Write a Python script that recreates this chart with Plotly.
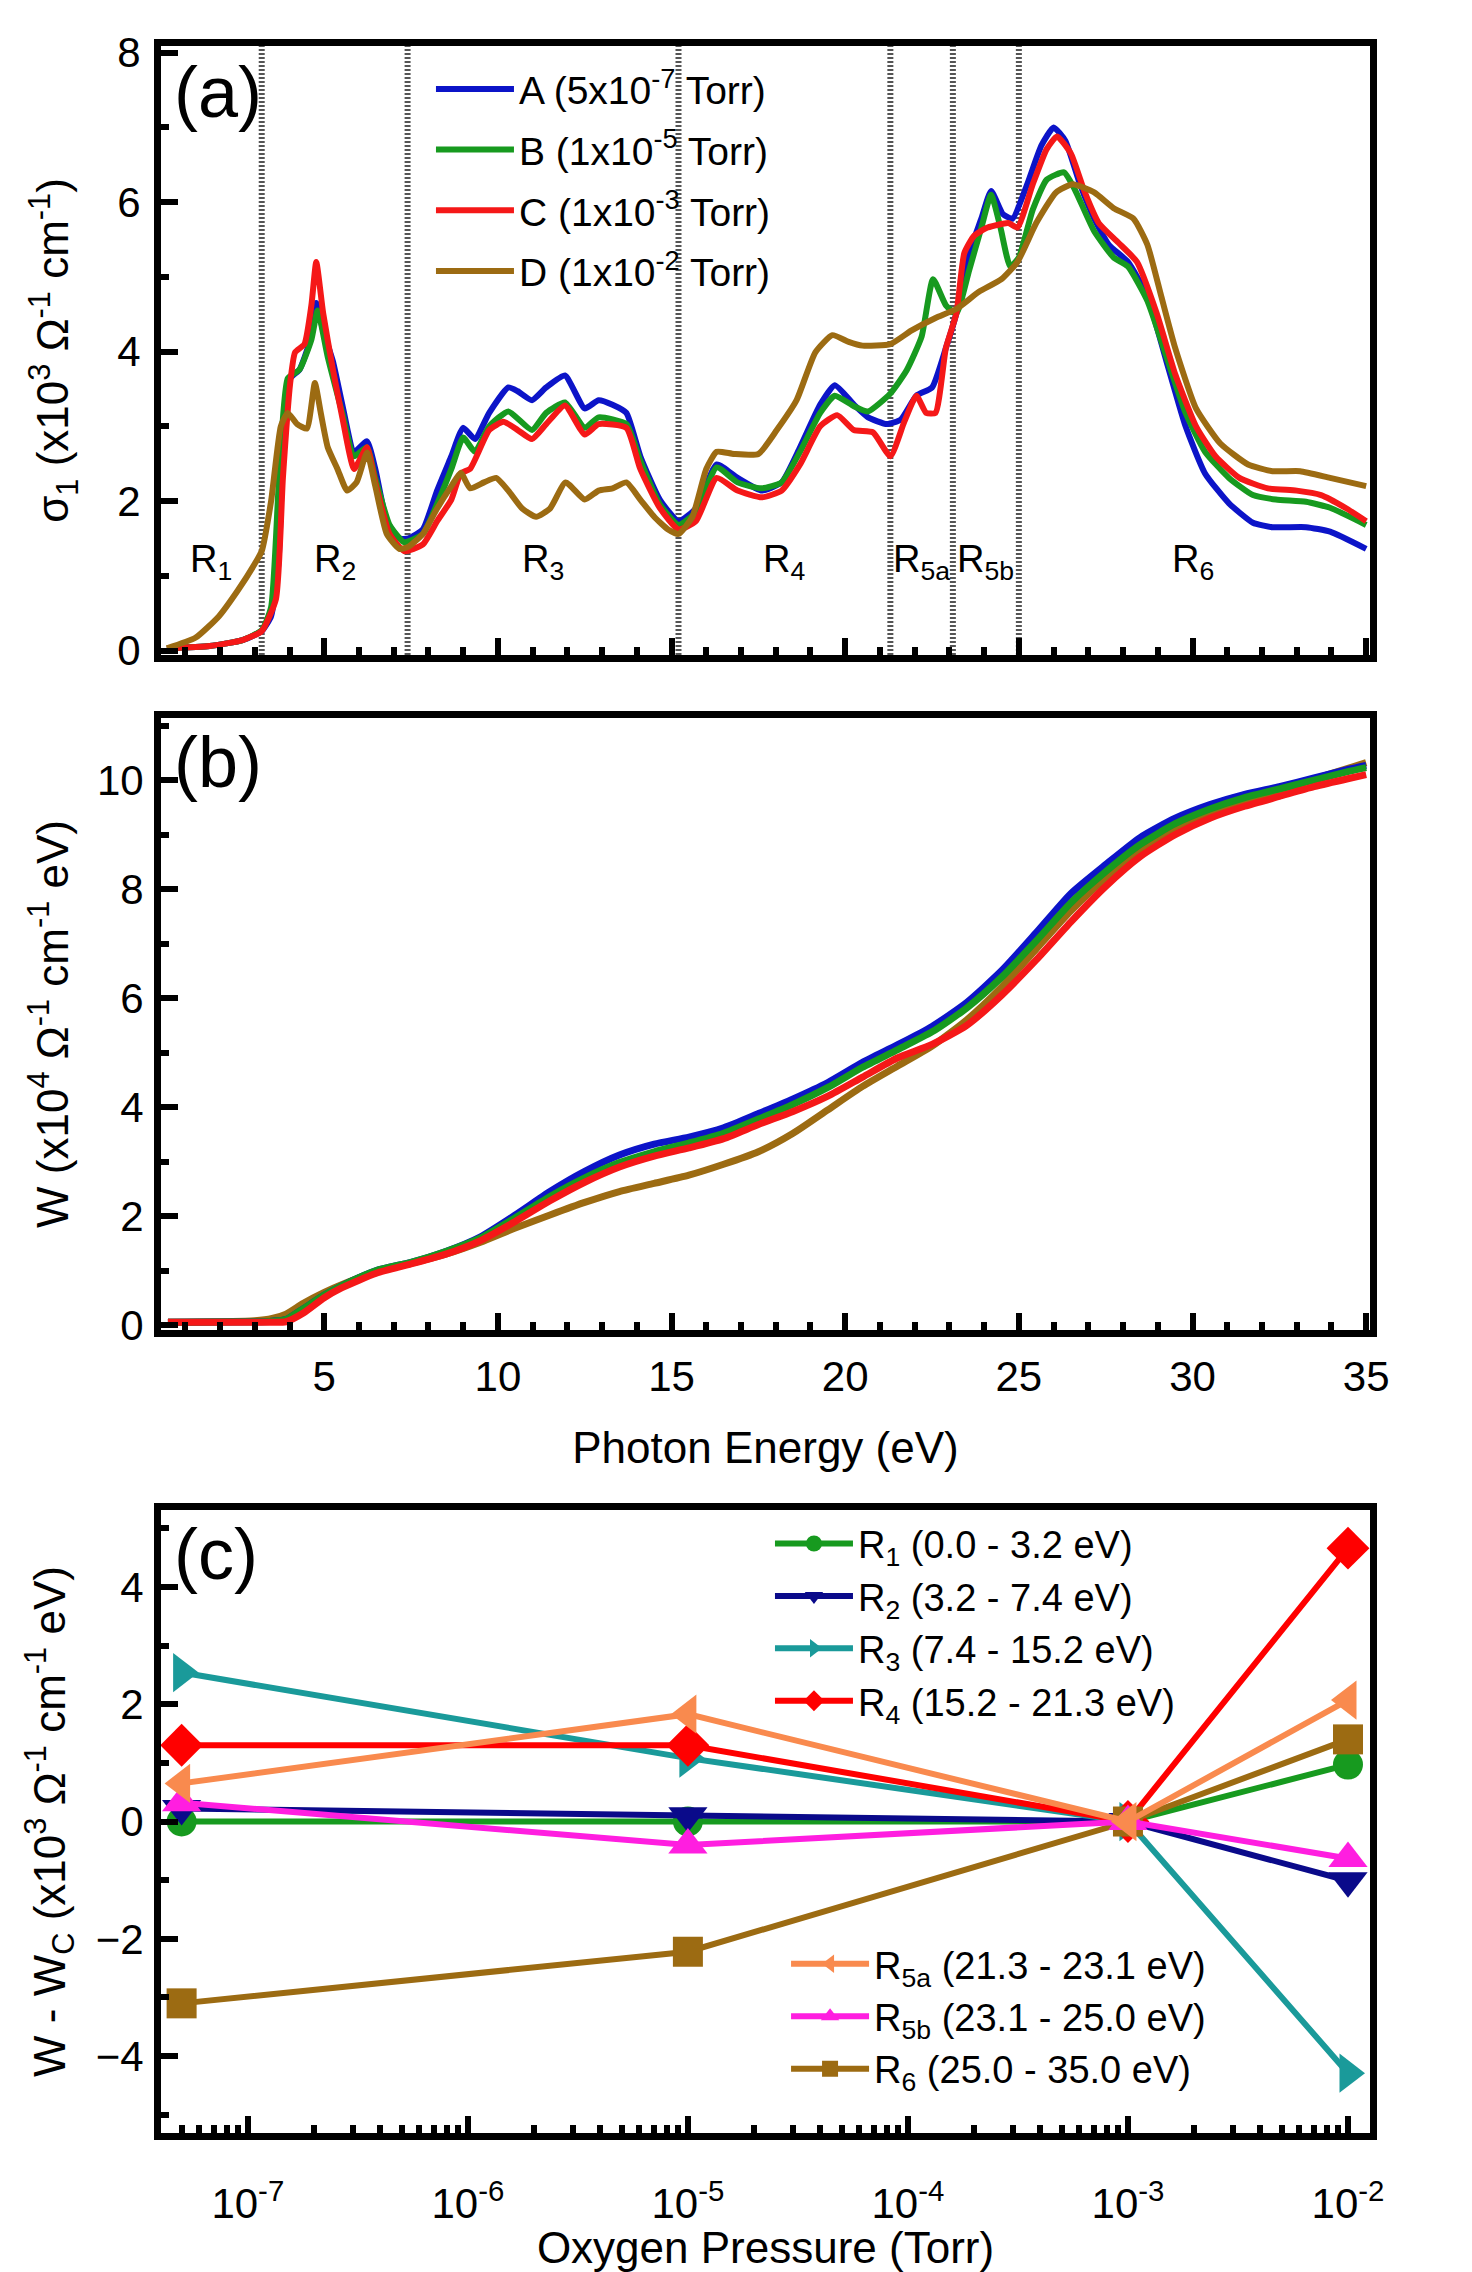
import numpy as np
import plotly.graph_objects as go

FONT = "Liberation Sans, Arial, sans-serif"

# ---------------- Panel (a): sigma_1 (x10^3 Ohm^-1 cm^-1) ----------------
E_A = [0.47, 1.7, 2.65, 3.2, 3.47, 3.68, 3.81, 4.02, 4.29, 4.56, 4.77, 4.97, 5.25, 5.52, 5.86, 6.23, 6.47, 6.8,
       7.16, 7.43, 7.84, 8.25, 8.66, 9.0, 9.34, 9.75, 10.3, 10.57, 10.98, 11.39, 11.93, 12.5, 12.9, 13.3, 13.7,
       14.1, 14.66, 15.2, 15.7, 16.3, 16.9, 17.6, 18.17, 18.7, 19.28, 19.7, 20.25, 20.66, 21.2, 21.6, 22.05,
       22.5, 22.9, 23.2, 23.57, 23.92, 24.2, 24.54, 24.82, 25.24, 25.65, 26.0, 26.34, 26.76, 27.17, 27.59,
       28.14, 28.7, 29.25, 29.8, 30.36, 31.05, 31.74, 32.3, 33.27, 33.96, 35.0]
S_A = [0.03, 0.06, 0.14, 0.26, 0.46, 1.16, 2.6, 3.64, 3.76, 4.1, 4.65, 4.28, 3.87, 3.29, 2.66, 2.8, 2.43, 1.73,
       1.5, 1.5, 1.62, 2.14, 2.6, 2.98, 2.83, 3.18, 3.52, 3.47, 3.35, 3.52, 3.68, 3.24, 3.35, 3.29, 3.18,
       2.6, 2.02, 1.73, 1.9, 2.49, 2.31, 2.14, 2.25, 2.72, 3.29, 3.55, 3.29, 3.12, 3.03, 3.09, 3.41,
       3.52, 4.05, 4.51, 5.32, 5.78, 6.15, 5.84, 5.78, 6.24, 6.76, 7.0, 6.82, 6.24, 5.78, 5.43,
       5.2, 4.74, 3.87, 3.0, 2.37, 1.97, 1.71, 1.65, 1.65, 1.59, 1.36]

E_B = [0.47, 1.7, 2.65, 3.2, 3.47, 3.7, 3.95, 4.29, 4.63, 4.81, 5.1, 5.52, 5.86, 6.23, 6.47, 6.88, 7.3, 7.84,
       8.25, 8.66, 9.0, 9.34, 9.75, 10.3, 10.98, 11.39, 11.93, 12.5, 12.9, 13.7, 14.1, 14.66, 15.2, 15.7,
       16.3, 16.9, 17.6, 18.17, 18.7, 19.28, 19.7, 20.25, 20.66, 21.3, 21.77, 22.2, 22.53, 22.9, 23.2, 23.57,
       23.92, 24.2, 24.47, 24.75, 25.0, 25.4, 25.8, 26.3, 26.6, 27.17, 27.73, 28.14, 28.7, 29.25, 29.8,
       30.36, 31.05, 31.74, 32.4, 33.27, 33.96, 35.0]
S_B = [0.03, 0.06, 0.14, 0.27, 0.58, 2.31, 3.64, 3.76, 4.16, 4.55, 3.93, 3.18, 2.6, 2.72, 2.31, 1.68, 1.45, 1.56,
       1.96, 2.43, 2.85, 2.66, 3.0, 3.2, 2.95, 3.18, 3.32, 2.98, 3.12, 3.03, 2.54, 1.96, 1.68, 1.85,
       2.45, 2.25, 2.17, 2.25, 2.66, 3.18, 3.41, 3.27, 3.2, 3.44, 3.75, 4.2, 4.97, 4.62, 4.51, 5.09,
       5.66, 6.1, 5.66, 5.14, 5.26, 5.9, 6.3, 6.4, 6.18, 5.61, 5.26, 5.14, 4.68, 3.93, 3.18,
       2.66, 2.31, 2.08, 2.02, 1.99, 1.91, 1.68]

E_C = [0.47, 1.7, 2.65, 3.2, 3.61, 3.81, 4.02, 4.16, 4.43, 4.63, 4.77, 4.97, 5.25, 5.52, 5.86, 6.23, 6.47, 6.88,
       7.3, 7.84, 8.25, 8.66, 8.93, 9.2, 9.75, 10.16, 10.57, 10.98, 11.39, 11.93, 12.5, 12.9, 13.7, 14.1,
       14.66, 15.2, 15.7, 16.3, 16.9, 17.6, 18.17, 18.7, 19.28, 19.77, 20.25, 20.8, 21.3, 21.7, 22.05, 22.33,
       22.6, 22.9, 23.2, 23.43, 23.71, 24.1, 24.7, 24.96, 25.4, 25.8, 26.1, 26.5, 26.9, 27.3, 27.86, 28.4,
       28.97, 29.5, 30.1, 30.66, 31.35, 32.17, 33.0, 33.7, 34.4, 35.0]
S_C = [0.03, 0.06, 0.14, 0.26, 0.69, 2.31, 3.58, 3.99, 4.1, 4.62, 5.2, 4.51, 3.76, 3.12, 2.43, 2.72, 2.25, 1.56,
       1.33, 1.42, 1.73, 2.02, 2.37, 2.43, 2.95, 3.06, 2.95, 2.83, 3.03, 3.28, 2.89, 3.03, 2.98, 2.43,
       1.91, 1.62, 1.73, 2.31, 2.14, 2.05, 2.14, 2.49, 3.0, 3.15, 2.95, 2.92, 2.6, 3.06, 3.41, 3.18,
       3.18, 4.05, 4.51, 5.32, 5.55, 5.66, 5.72, 5.66, 6.24, 6.71, 6.88, 6.65, 6.13, 5.72, 5.46, 5.2,
       4.51, 3.7, 3.0, 2.6, 2.31, 2.17, 2.14, 2.08, 1.91, 1.73]

E_D = [0.47, 1.29, 1.97, 2.52, 3.0, 3.2, 3.47, 3.75, 3.95, 4.22, 4.5, 4.73, 4.9, 5.1, 5.38, 5.66, 5.93, 6.23,
       6.47, 6.8, 7.16, 7.43, 7.84, 8.25, 8.66, 8.93, 9.2, 9.6, 9.95, 10.3, 10.7, 11.1, 11.5, 11.95, 12.5,
       12.9, 13.3, 13.7, 14.1, 14.5, 14.9, 15.2, 15.6, 16.0, 16.3, 16.8, 17.5, 18.03, 18.6, 19.14, 19.63,
       20.1, 20.5, 21.3, 21.9, 22.6, 23.2, 23.85, 24.5, 24.96, 25.5, 26.07, 26.55, 27.17, 27.73, 28.3, 28.7,
       29.1, 29.5, 30.1, 30.8, 31.6, 32.3, 33.1, 33.96, 35.0]
S_D = [0.03, 0.17, 0.46, 0.81, 1.16, 1.33, 2.0, 3.0, 3.18, 3.03, 2.97, 3.58, 3.18, 2.72, 2.43, 2.14, 2.25, 2.65,
       2.2, 1.56, 1.36, 1.39, 1.56, 1.9, 2.2, 2.38, 2.17, 2.25, 2.31, 2.14, 1.9, 1.79, 1.9, 2.25, 2.02,
       2.14, 2.17, 2.25, 2.02, 1.79, 1.62, 1.56, 1.79, 2.43, 2.66, 2.63, 2.63, 2.95, 3.35, 3.99, 4.22,
       4.13, 4.08, 4.1, 4.28, 4.45, 4.57, 4.8, 4.97, 5.2, 5.72, 6.13, 6.24, 6.13, 5.92, 5.78, 5.43,
       4.74, 4.05, 3.24, 2.77, 2.49, 2.4, 2.4, 2.31, 2.2]

series_names_a = ["A (5x10<sup>-7</sup> Torr)", "B (1x10<sup>-5</sup> Torr)",
                  "C (1x10<sup>-3</sup> Torr)", "D (1x10<sup>-2</sup> Torr)"]
series_colors = ["#0c14c8", "#179a1f", "#f51818", "#9c6b12"]

region_bounds = [3.2, 7.4, 15.2, 21.3, 23.1, 25.0]
region_labels = ["R<sub>1</sub>", "R<sub>2</sub>", "R<sub>3</sub>", "R<sub>4</sub>",
                 "R<sub>5a</sub>", "R<sub>5b</sub>", "R<sub>6</sub>"]
region_label_x = [1.75, 5.3, 11.3, 18.25, 22.2, 24.05, 30.0]
region_label_y = 1.18

# ---------------- Panel (b): W (x10^4 Ohm^-1 cm^-1 eV) ----------------
E_W = [0.5, 3.0, 3.5, 3.9, 4.4, 5.0, 5.5, 6.5, 7.5, 8.5, 9.5, 10.5, 11.5, 12.5, 13.5, 14.5, 15.5, 16.5,
       17.5, 18.5, 19.5, 20.5, 21.5, 22.5, 23.5, 24.5, 25.5, 26.5, 27.5, 28.5, 29.5, 30.5, 31.5, 32.5,
       33.5, 34.5, 35.0]
W_A = [0.05, 0.06, 0.07, 0.1, 0.3, 0.55, 0.72, 1.0, 1.15, 1.35, 1.62, 2.02, 2.45, 2.82, 3.12, 3.32, 3.45, 3.62,
       3.88, 4.15, 4.45, 4.82, 5.14, 5.48, 5.92, 6.5, 7.2, 7.92, 8.45, 8.95, 9.3, 9.55, 9.74, 9.88,
       10.04, 10.2, 10.27]
W_B = [0.05, 0.06, 0.07, 0.1, 0.3, 0.55, 0.72, 1.0, 1.15, 1.35, 1.6, 1.97, 2.36, 2.7, 2.98, 3.18, 3.34, 3.52,
       3.78, 4.05, 4.36, 4.73, 5.05, 5.38, 5.82, 6.38, 7.05, 7.75, 8.32, 8.82, 9.2, 9.47, 9.68, 9.84,
       10.0, 10.16, 10.23]
W_C = [0.05, 0.05, 0.05, 0.06, 0.22, 0.5, 0.68, 0.95, 1.12, 1.3, 1.55, 1.9, 2.28, 2.62, 2.9, 3.1, 3.25, 3.42,
       3.68, 3.92, 4.2, 4.55, 4.9, 5.15, 5.5, 6.05, 6.7, 7.4, 8.05, 8.6, 9.0, 9.3, 9.52, 9.7,
       9.88, 10.03, 10.1]
W_D = [0.05, 0.08, 0.12, 0.2, 0.4, 0.6, 0.74, 0.98, 1.13, 1.3, 1.52, 1.78, 2.02, 2.25, 2.45, 2.6, 2.75, 2.95,
       3.18, 3.52, 3.95, 4.38, 4.75, 5.12, 5.6, 6.2, 6.9, 7.6, 8.2, 8.7, 9.12, 9.4, 9.62, 9.8,
       10.02, 10.22, 10.32]

# ---------------- Panel (c): W - W_C (x10^3 Ohm^-1 cm^-1 eV) ----------------
pressure = [5e-8, 1e-5, 1e-3, 1e-2]
dW_R1 = [0.0, 0.0, 0.0, 0.97]
dW_R2 = [0.22, 0.1, 0.0, -1.01]
dW_R3 = [2.54, 1.08, 0.0, -4.29]
dW_R4 = [1.3, 1.3, 0.0, 4.66]
dW_R5a = [0.65, 1.83, 0.0, 2.07]
dW_R5b = [0.32, -0.4, 0.0, -0.63]
dW_R6 = [-3.1, -2.22, 0.0, 1.4]

c_names = ["R<sub>1</sub> (0.0 - 3.2 eV)", "R<sub>2</sub> (3.2 - 7.4 eV)", "R<sub>3</sub> (7.4 - 15.2 eV)",
           "R<sub>4</sub> (15.2 - 21.3 eV)", "R<sub>5a</sub> (21.3 - 23.1 eV)",
           "R<sub>5b</sub> (23.1 - 25.0 eV)", "R<sub>6</sub> (25.0 - 35.0 eV)"]
c_colors = ["#179a1f", "#0a0a8a", "#1a9a9a", "#ff0000", "#f98a4e", "#ff1ee0", "#9c6b12"]
c_symbols = ["circle", "triangle-down", "triangle-right", "diamond", "triangle-left", "triangle-up", "square"]
c_sizes = [30, 34, 34, 33, 34, 34, 30]

pressure_ticks = [1e-7, 1e-6, 1e-5, 1e-4, 1e-3, 1e-2]
pressure_ticktext = ["10<sup>-7</sup>", "10<sup>-6</sup>", "10<sup>-5</sup>", "10<sup>-4</sup>",
                     "10<sup>-3</sup>", "10<sup>-2</sup>"]

# ---------------- Figure ----------------
fig = go.Figure()

a_data = [(E_A, S_A), (E_B, S_B), (E_C, S_C), (E_D, S_D)]
for i, (ex, sy) in enumerate(a_data):
    fig.add_trace(go.Scatter(x=ex, y=sy, mode="lines", name=series_names_a[i],
                             line=dict(color=series_colors[i], width=6, shape="spline", smoothing=0.5),
                             xaxis="x", yaxis="y", legend="legend", legendgroup="a%d" % i))

b_data = [W_D, W_A, W_B, W_C]
b_colors = [series_colors[3], series_colors[0], series_colors[1], series_colors[2]]
for wy, col in zip(b_data, b_colors):
    fig.add_trace(go.Scatter(x=E_W, y=wy, mode="lines", showlegend=False,
                             line=dict(color=col, width=7, shape="spline", smoothing=0.6),
                             xaxis="x2", yaxis="y2"))

c_data = [dW_R1, dW_R2, dW_R3, dW_R4, dW_R5a, dW_R5b, dW_R6]
draw_order = [0, 1, 2, 3, 6, 5, 4]
for k in draw_order:
    fig.add_trace(go.Scatter(
        x=pressure, y=c_data[k], mode="lines+markers", name=c_names[k],
        line=dict(color=c_colors[k], width=6),
        marker=dict(symbol=c_symbols[k], size=c_sizes[k], color=c_colors[k], line=dict(width=0)),
        xaxis="x3", yaxis="y3",
        legend="legend2" if k < 4 else "legend3",
        legendrank=k))

tickfont = dict(family=FONT, size=42, color="black")
titlefont = dict(family=FONT, size=44, color="black")
axis_common = dict(showline=True, linewidth=7, linecolor="black", mirror=True,
                   ticks="inside", ticklen=17, tickwidth=6, tickcolor="black",
                   showgrid=False, zeroline=False, tickfont=tickfont)
minor_lin = dict(ticks="inside", ticklen=8, tickwidth=6, tickcolor="black", dtick=1, showgrid=False)

x_rng = [0.3, 35.11]
minor_log = []
for dec in range(-8, -1):
    for m in range(2, 10):
        minor_log.append(m * 10.0 ** dec)

legend_common = dict(xanchor="left", yanchor="top", bgcolor="rgba(0,0,0,0)", itemwidth=78)

fig.update_layout(
    width=1472, height=2272,
    margin=dict(l=161, r=102, t=46, b=139),
    paper_bgcolor="white", plot_bgcolor="white",
    font=dict(family=FONT, color="black"),
    xaxis=dict(axis_common, domain=[0, 1], anchor="y", range=x_rng, dtick=5, tick0=0,
               showticklabels=False, minor=minor_lin),
    yaxis=dict(axis_common, domain=[0.7082, 1.0], anchor="x", range=[-0.06, 8.09], dtick=2, tick0=0,
               minor=minor_lin, ticklabelstandoff=5,
               title=dict(text="σ<sub>1</sub> (x10<sup>3</sup> Ω<sup>-1</sup> cm<sup>-1</sup>)",
                          font=titlefont, standoff=37)),
    xaxis2=dict(axis_common, domain=[0, 1], anchor="y2", range=x_rng, dtick=5, tick0=0,
                minor=minor_lin, ticklabelstandoff=4,
                title=dict(text="Photon Energy (eV)", font=titlefont, standoff=35)),
    yaxis2=dict(axis_common, domain=[0.3848, 0.678], anchor="x2", range=[-0.09, 11.14], dtick=2, tick0=0,
                minor=minor_lin, ticklabelstandoff=2,
                title=dict(text="W (x10<sup>4</sup> Ω<sup>-1</sup> cm<sup>-1</sup> eV)",
                           font=titlefont, standoff=17)),
    xaxis3=dict(axis_common, domain=[0, 1], anchor="y3", type="log",
                range=[np.log10(4.03e-8), np.log10(1.259e-2)],
                tickmode="array", tickvals=pressure_ticks, ticktext=pressure_ticktext,
                ticklabelstandoff=28,
                minor=dict(ticks="inside", ticklen=8, tickwidth=6, tickcolor="black",
                           tickmode="array", tickvals=minor_log, showgrid=False),
                title=dict(text="Oxygen Pressure (Torr)", font=titlefont, standoff=2)),
    yaxis3=dict(axis_common, domain=[0, 0.2985], anchor="x3", range=[-5.31, 5.31], dtick=2, tick0=0,
                minor=minor_lin, ticklabelstandoff=2,
                title=dict(text="W - W<sub>C</sub> (x10<sup>3</sup> Ω<sup>-1</sup> cm<sup>-1</sup> eV)",
                           font=titlefont, standoff=19)),
    legend=dict(legend_common, x=0.2233, y=0.9947,
                font=dict(family=FONT, size=39, color="black"), tracegroupgap=7,
                traceorder="grouped"),
    legend2=dict(legend_common, x=0.5037, y=0.2974,
                 font=dict(family=FONT, size=38, color="black"), traceorder="normal"),
    legend3=dict(legend_common, x=0.517, y=0.096,
                 font=dict(family=FONT, size=38, color="black"), traceorder="normal"),
)

shapes = []
for bnd in region_bounds:
    shapes.append(dict(type="line", xref="x", yref="y domain", x0=bnd, x1=bnd, y0=0, y1=1,
                       line=dict(color="#555555", width=6, dash="2px,2px"), layer="below"))
fig.update_layout(shapes=shapes)

annotations = []
for lx, lt in zip(region_label_x, region_labels):
    annotations.append(dict(x=lx, y=region_label_y, xref="x", yref="y", text=lt, showarrow=False,
                            font=dict(family=FONT, size=38, color="black")))
for lab, py in zip(["(a)", "(b)", "(c)"], [0.978, 0.657, 0.2773]):
    annotations.append(dict(x=0.009, y=py, xref="paper", yref="paper", text=lab, showarrow=False,
                            xanchor="left", yanchor="middle",
                            font=dict(family=FONT, size=72, color="black")))
fig.update_layout(annotations=annotations)

# Make the page exactly the size of the figure (no body margin, no stray line box).
page_fix = ("var gd=document.getElementById('{plot_id}');"
            "var de=document.documentElement;de.style.margin='0';de.style.padding='0';"
            "var b=document.body;b.style.margin='0';b.style.padding='0';"
            "b.style.lineHeight='0';b.style.fontSize='0';"
            "if(gd&&gd.parentNode){gd.parentNode.style.lineHeight='0';gd.parentNode.style.fontSize='0';}")
fig.write_html("out.html", config={"displayModeBar": False}, post_script=page_fix)
